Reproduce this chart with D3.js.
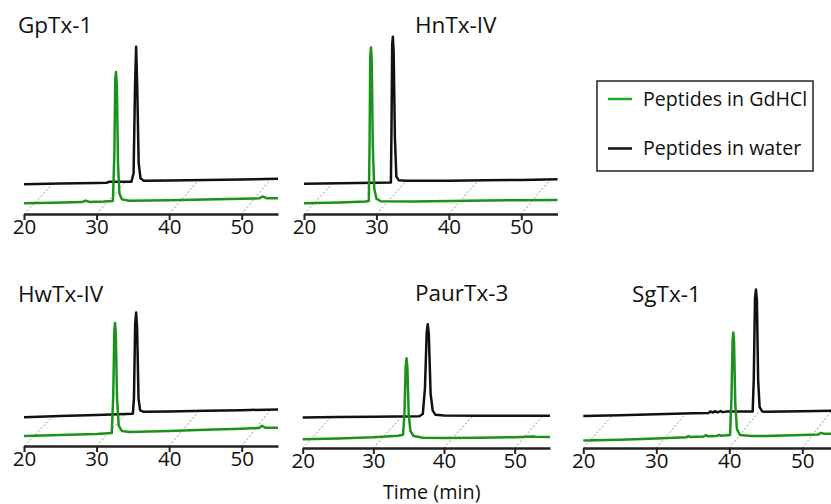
<!DOCTYPE html>
<html>
<head>
<meta charset="utf-8">
<script src="https://cdnjs.cloudflare.com/ajax/libs/d3/7.8.5/d3.min.js"></script>
<style>
  body { margin: 0; background: #fff; }
  text { font-family: "Open Sans", sans-serif; fill: #111; }
</style>
</head>
<body>
<div id="chart"></div>
<script>
// Panel names and tick labels
const panelNames = ["GpTx-1", "HnTx-IV", "HwTx-IV", "PaurTx-3", "SgTx-1"];
const tickValues = [20, 30, 40, 50];
const timeDomain = [20, 55];
const legendLabels = ["Peptides in GdHCl", "Peptides in water"];
const axisTitle = "Time (min)";

// Traces: [time (min), signal]
const gptxGdhcl = [[20,6.3],[24,6.6],[28,7.0],[28.5,7.9],[29,7.1],[31,7.3],[32.25,7.6],[32.45,35],[32.58,80],[32.68,83.5],[32.8,75],[32.95,30],[33.15,12],[33.5,8.6],[34.5,7.8],[40,8.1],[45,8.5],[50,8.9],[52.4,9.2],[52.9,10.3],[53.4,9.3],[55,9.3]];
const gptxWater = [[20,17.5],[25,17.9],[30,18.2],[31.4,18.4],[31.7,18.9],[34.8,19.0],[35.1,24],[35.3,75],[35.45,98.4],[35.6,75],[35.8,30],[36.05,21],[36.5,19.6],[40,19.7],[45,20.0],[50,20.3],[55,20.7]];

const hntxGdhcl = [[20,6.3],[25,6.8],[28.5,7.4],[28.95,7.7],[29.05,40],[29.15,92],[29.25,98],[29.35,90],[29.5,40],[29.7,15],[30,9],[30.6,7.5],[35,7.4],[40,7.6],[45,7.9],[50,8.1],[55,8.3]];
const hntxWater = [[20,17.8],[25,18.1],[30,18.4],[32.0,18.6],[32.08,50],[32.18,100],[32.27,104.3],[32.38,95],[32.55,45],[32.75,22],[33.1,19.8],[34,19.5],[40,19.6],[45,19.8],[50,20.0],[55,20.4]];

const hwtxGdhcl = [[20,5.9],[25,6.4],[30,7.0],[32.1,7.6],[32.3,30],[32.45,68],[32.55,72.4],[32.65,66],[32.82,28],[33.05,12],[33.5,8.8],[34.5,8.2],[40,8.8],[45,9.5],[50,10.2],[52.4,10.6],[52.8,11.9],[53.3,10.7],[55,10.7]];
const hwtxWater = [[20,16.9],[25,17.6],[30,18.3],[35.0,19.0],[35.15,28],[35.32,72],[35.45,78.5],[35.58,70],[35.78,28],[36.0,21],[36.5,20.1],[40,20.3],[45,20.7],[50,21.1],[55,21.5]];

const paurGdhcl = [[20,5.1],[25,5.6],[30,6.3],[33.5,7.2],[34.2,7.8],[34.4,20],[34.58,48],[34.7,52.8],[34.82,47],[35.0,20],[35.25,10],[35.7,7.0],[37,6.0],[40,5.9],[45,6.1],[50,6.3],[52.5,6.8],[53,6.6],[55,6.5]];
const paurWater = [[20,17.9],[25,18.2],[30,18.4],[36.5,18.7],[37.0,20],[37.3,35],[37.55,68],[37.7,72.8],[37.85,67],[38.1,32],[38.4,22],[38.8,19.5],[40,19.1],[45,19.0],[50,19.0],[55,19.0]];

const sgtxGdhcl = [[20,4.4],[25,4.9],[30,5.6],[34.1,6.3],[34.4,7.0],[34.7,6.4],[36.5,6.8],[36.8,7.5],[37.1,6.9],[38.3,7.1],[38.6,7.7],[38.9,7.2],[40.1,7.6],[40.3,30],[40.45,63],[40.55,67.9],[40.65,62],[40.82,26],[41.05,11],[41.5,7.6],[43,7.0],[45,7.1],[50,7.6],[52.2,7.9],[52.5,8.9],[53,8.4],[55,8.3]];
const sgtxWater = [[20,18.8],[25,19.3],[30,19.8],[35,20.4],[37.2,20.6],[37.4,21.5],[37.7,20.9],[38.1,21.6],[38.4,21.0],[38.8,21.7],[39.1,21.1],[39.6,21.4],[43.2,21.4],[43.35,40],[43.52,88],[43.65,93.2],[43.78,87],[43.95,40],[44.15,24],[44.5,21.5],[45,21.3],[50,21.6],[55,22.0]];

const gdhclTraces = [gptxGdhcl, hntxGdhcl, hwtxGdhcl, paurGdhcl, sgtxGdhcl];
const waterTraces = [gptxWater, hntxWater, hwtxWater, paurWater, sgtxWater];

// depth shift of the perspective guide lines, in minutes
const depthShift = 4;

const W = 831, H = 504;
const green = "#1b931b", legendGreen = "#1eb01e", black = "#111";

// layout of each panel (pixels)
const layout = [
  { x0: 24, x1: 278, axisY: 214, titleX: 18, titleY: 33 },
  { x0: 304, x1: 557.5, axisY: 214, titleX: 415, titleY: 33 },
  { x0: 24, x1: 278, axisY: 446, titleX: 18, titleY: 301.5 },
  { x0: 302.7, x1: 550, axisY: 448, titleX: 415, titleY: 300.5 },
  { x0: 583.3, x1: 838.8, axisY: 448, titleX: 632, titleY: 301.5 }
];

const svg = d3.select("#chart").append("svg")
  .attr("width", W)
  .attr("height", H);

panelNames.forEach((name, i) => {
  const L = layout[i];
  const g = svg.append("g");

  const x = d3.scaleLinear().domain(timeDomain).range([L.x0, L.x1]);
  const y = d3.scaleLinear().domain([0, 100]).range([L.axisY, L.axisY - 170]);

  const water = waterTraces[i];
  // straight baseline of the back trace, used to end the guide lines
  const first = water[0], last = water[water.length - 1];
  const backBase = t => first[1] + (last[1] - first[1]) * (t - first[0]) / (last[0] - first[0]);

  // dotted perspective guides
  g.selectAll(".guide")
    .data(tickValues)
    .enter()
    .append("line")
    .attr("class", "guide")
    .attr("x1", d => x(d))
    .attr("y1", L.axisY)
    .attr("x2", d => x(d + depthShift))
    .attr("y2", d => y(backBase(d + depthShift)))
    .attr("stroke", "#777")
    .attr("stroke-width", 0.8)
    .attr("stroke-dasharray", "2,2");

  const line = d3.line()
    .x(d => x(d[0]))
    .y(d => y(d[1]));

  g.append("path")
    .datum(water)
    .attr("fill", "none")
    .attr("stroke", black)
    .attr("stroke-width", 2.5)
    .attr("stroke-linejoin", "round")
    .attr("d", line);

  g.append("path")
    .datum(gdhclTraces[i])
    .attr("fill", "none")
    .attr("stroke", green)
    .attr("stroke-width", 2.5)
    .attr("stroke-linejoin", "round")
    .attr("d", line);

  // x axis
  const ax = g.append("g")
    .attr("transform", `translate(0,${L.axisY})`)
    .call(d3.axisBottom(x).tickValues(tickValues).tickSize(6).tickSizeOuter(0).tickPadding(-1));
  ax.select(".domain").attr("stroke", "#222").attr("stroke-width", 2.5);
  ax.selectAll(".tick line").attr("stroke", "#222").attr("stroke-width", 2);
  ax.selectAll(".tick text")
    .style("font-family", "Open Sans")
    .style("font-size", "20.5px")
    .attr("fill", "#111");

  g.append("text")
    .attr("x", L.titleX)
    .attr("y", L.titleY)
    .style("font-size", "22.5px")
    .text(name);
});

// axis title under the middle panel
svg.append("text")
  .attr("x", 431.7)
  .attr("y", 499)
  .attr("text-anchor", "middle")
  .style("font-size", "19.8px")
  .text(axisTitle);

// legend
const legend = svg.append("g");
legend.append("rect")
  .attr("x", 597)
  .attr("y", 81)
  .attr("width", 216)
  .attr("height", 90)
  .attr("fill", "none")
  .attr("stroke", "#222")
  .attr("stroke-width", 1.5);

[legendGreen, black].forEach((c, i) => {
  const ly = 99 + i * 49.5;
  legend.append("line")
    .attr("x1", 608).attr("x2", 632)
    .attr("y1", ly).attr("y2", ly)
    .attr("stroke", c)
    .attr("stroke-width", 2.5);
  legend.append("text")
    .attr("x", 643)
    .attr("y", ly + 6.5)
    .style("font-size", "19.6px")
    .text(legendLabels[i]);
});
</script>
</body>
</html>
